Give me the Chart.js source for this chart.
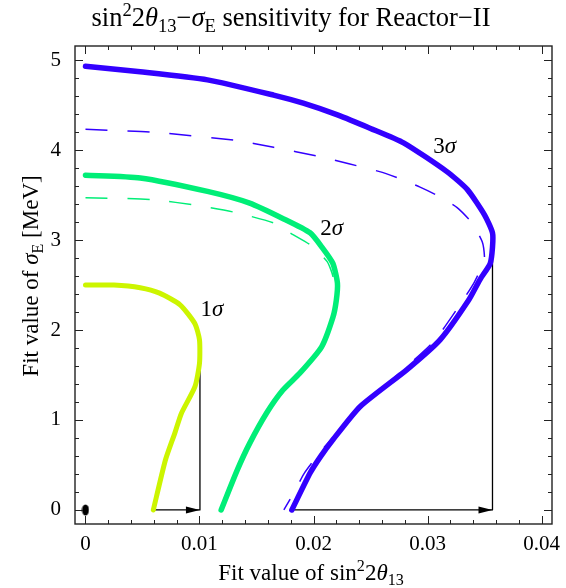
<!DOCTYPE html>
<html>
<head>
<meta charset="utf-8">
<script src="https://cdn.jsdelivr.net/npm/chart.js@4.4.0/dist/chart.umd.min.js"></script>
<style>
  body { margin: 0; background: #fff; }
  #wrap { width: 566px; height: 588px; }
</style>
</head>
<body>
<div id="wrap"><canvas id="chart"></canvas></div>
<script>
// axis ticks
const xTicks = [0, 0.01, 0.02, 0.03, 0.04];
const xTickLabels = ['0', '0.01', '0.02', '0.03', '0.04'];
const yTicks = [0, 1, 2, 3, 4, 5];
const yTickLabels = ['0', '1', '2', '3', '4', '5'];

// contours: [sin^2 2theta13, sigma_E (MeV)]
const sigma1 = [[0, 2.5], [0.0025, 2.5], [0.0048, 2.47], [0.0065, 2.41], [0.0083, 2.28], [0.0096, 2.07],
  [0.0100, 1.89], [0.0100, 1.63], [0.0096, 1.37], [0.0084, 1.07], [0.00785, 0.86], [0.0070, 0.55], [0.00595, 0]];
const sigma2 = [[0, 3.72], [0.0048, 3.69], [0.0107, 3.54], [0.0144, 3.41], [0.0173, 3.24], [0.0197, 3.08],
  [0.0208, 2.91], [0.0217, 2.74], [0.0221, 2.52], [0.0220, 2.33], [0.0217, 2.14], [0.0207, 1.81], [0.0188, 1.52],
  [0.0173, 1.33], [0.0159, 1.08], [0.0144, 0.74], [0.0133, 0.44], [0.0119, 0]];
const sigma3 = [[0, 4.93], [0.0048, 4.87], [0.0107, 4.78], [0.0165, 4.61], [0.0191, 4.52], [0.0221, 4.39],
  [0.0250, 4.24], [0.0279, 4.08], [0.0317, 3.76], [0.0335, 3.56], [0.0350, 3.28], [0.0357, 3.08], [0.0357, 2.92],
  [0.0355, 2.74], [0.0346, 2.56], [0.0336, 2.33], [0.0311, 1.89], [0.0282, 1.56], [0.0241, 1.15], [0.0217, 0.78],
  [0.0206, 0.59], [0.0197, 0.41], [0.0181, 0]];
const sigma2Dashed = [[0, 3.47], [0.0058, 3.45], [0.0100, 3.38], [0.0130, 3.31], [0.0165, 3.19], [0.0182, 3.06],
  [0.0199, 2.93], [0.0212, 2.76], [0.0217, 2.6], [0.0218, 2.4]];
const sigma3Dashed = [[0, 4.23], [0.0057, 4.20], [0.0130, 4.11], [0.0165, 4.03], [0.0204, 3.93], [0.0258, 3.76],
  [0.0276, 3.68], [0.0293, 3.59], [0.0311, 3.48], [0.0326, 3.36], [0.0339, 3.19], [0.0348, 2.98], [0.0350, 2.81],
  [0.0349, 2.74], [0.0341, 2.53], [0.0330, 2.31], [0.0306, 1.88], [0.0277, 1.54], [0.0245, 1.18], [0.0226, 0.92],
  [0.0209, 0.69], [0.0192, 0.41], [0.0184, 0.22], [0.0174, 0]];

// arrows from the contour foot to the largest sin^2 2theta13
const arrow1 = [[0.00595, 0], [0.01004, 0], [0.01004, 1.89]];
const arrow3 = [[0.0181, 0], [0.0357, 0], [0.0357, 3.09]];
const bestFit = [[0, 0]];

// contour labels
const labelText = ['1', '2', '3'];
const labelX = [0.0111, 0.0216, 0.0315];
const labelY = [2.24, 3.15, 4.06];

const FONT = "'Liberation Serif', 'Times New Roman', serif";
const toPts = arr => arr.map(p => ({ x: p[0], y: p[1] }));

// black ellipse for the best fit point
const dotImg = document.createElement('canvas');
dotImg.width = 8; dotImg.height = 12;
const dc = dotImg.getContext('2d');
dc.fillStyle = '#000';
dc.beginPath();
dc.ellipse(4, 6, 3.5, 5.5, 0, 0, Math.PI * 2);
dc.fill();

function lineSet(data, color, width, dash, order, tension) {
  return {
    data: toPts(data),
    showLine: true,
    borderColor: color,
    borderWidth: width,
    borderDash: dash || [],
    borderCapStyle: dash ? 'butt' : 'round',
    borderJoinStyle: 'round',
    pointRadius: 0,
    tension: tension === undefined ? 0.2 : tension,
    order: order
  };
}

// rich text helpers (super/subscripts, italic greek)
function partFont(p, size) {
  const s = (p[1] === 'sup' || p[1] === 'sub') ? size * 0.7 : size;
  return (p[1] === 'it' ? 'italic ' : '') + s + 'px ' + FONT;
}
function richWidth(ctx, parts, size) {
  let w = 0;
  parts.forEach(p => { ctx.font = partFont(p, size); w += ctx.measureText(p[0]).width; });
  return w;
}
function richText(ctx, parts, x, y, size, align) {
  let cx = align === 'center' ? x - richWidth(ctx, parts, size) / 2 : x;
  ctx.textBaseline = 'alphabetic';
  ctx.textAlign = 'left';
  parts.forEach(p => {
    ctx.font = partFont(p, size);
    let dy = 0;
    if (p[1] === 'sup') dy = -size * 0.38;
    if (p[1] === 'sub') dy = size * 0.22;
    ctx.fillText(p[0], cx, y + dy);
    cx += ctx.measureText(p[0]).width;
  });
}

const framePlugin = {
  id: 'frame',
  afterDatasetsDraw(chart) {
    const ctx = chart.ctx;
    const xs = chart.scales.x, ys = chart.scales.y;
    // arrow heads
    ctx.save();
    ctx.fillStyle = '#000';
    [arrow1, arrow3].forEach(a => {
      const tx = xs.getPixelForValue(a[1][0]), ty = ys.getPixelForValue(a[1][1]);
      ctx.beginPath();
      ctx.moveTo(tx, ty);
      ctx.lineTo(tx - 14, ty - 3.5);
      ctx.lineTo(tx - 14, ty + 3.5);
      ctx.closePath();
      ctx.fill();
    });
    // contour labels
    labelText.forEach((t, i) => {
      richText(ctx, [[t], ['σ', 'it']], xs.getPixelForValue(labelX[i]), ys.getPixelForValue(labelY[i]) + 8, 23, 'center');
    });
    ctx.restore();
  },
  afterDraw(chart) {
    const ctx = chart.ctx;
    const a = chart.chartArea;
    const xs = chart.scales.x, ys = chart.scales.y;
    ctx.save();
    ctx.strokeStyle = '#222';
    ctx.lineWidth = 1;
    // inside ticks on all four sides
    const tick = (len, px, vertical) => {
      ctx.beginPath();
      if (vertical) {
        ctx.moveTo(px, a.bottom); ctx.lineTo(px, a.bottom - len);
        ctx.moveTo(px, a.top); ctx.lineTo(px, a.top + len);
      } else {
        ctx.moveTo(a.left, px); ctx.lineTo(a.left + len, px);
        ctx.moveTo(a.right, px); ctx.lineTo(a.right - len, px);
      }
      ctx.stroke();
    };
    for (let i = -1; i <= 20; i++) {
      const px = Math.round(xs.getPixelForValue(i * 0.002)) + 0.5;
      if (px < a.left || px > a.right) continue;
      tick(i % 5 === 0 ? 8 : 4, px, true);
    }
    for (let i = -1; i <= 26; i++) {
      const py = Math.round(ys.getPixelForValue(i * 0.2)) + 0.5;
      if (py < a.top || py > a.bottom) continue;
      tick(i % 5 === 0 ? 8 : 4, py, false);
    }
    ctx.lineWidth = 1.4;
    ctx.strokeRect(a.left, a.top, a.right - a.left, a.bottom - a.top);

    // titles
    ctx.fillStyle = '#000';
    richText(ctx, [['sin'], ['2', 'sup'], ['2'], ['θ', 'it'], ['13', 'sub'], ['−'], ['σ', 'it'], ['E', 'sub'],
      [' sensitivity for Reactor−II']], 291, 26, 26.5, 'center');
    richText(ctx, [['Fit value of sin'], ['2', 'sup'], ['2'], ['θ', 'it'], ['13', 'sub']], 311, 580, 23, 'center');
    ctx.translate(38, 276);
    ctx.rotate(-Math.PI / 2);
    richText(ctx, [['Fit value of '], ['σ', 'it'], ['E', 'sub'], [' [MeV]']], 0, 0, 23, 'center');
    ctx.restore();
  }
};

new Chart(document.getElementById('chart'), {
  type: 'scatter',
  data: {
    datasets: [
      lineSet(sigma3Dashed, '#3300ff', 1.5, [22, 20], 3),
      lineSet(sigma2Dashed, '#00ee77', 1.5, [22, 20], 3),
      lineSet(arrow1, '#000', 1.3, null, 2, 0),
      lineSet(arrow3, '#000', 1.3, null, 2, 0),
      lineSet(sigma1, '#ccf500', 5, null, 1),
      lineSet(sigma2, '#00ee77', 5.5, null, 1),
      lineSet(sigma3, '#3300ff', 5.5, null, 1),
      { data: toPts(bestFit), pointStyle: dotImg, pointRadius: 5, order: 0 }
    ]
  },
  options: {
    responsive: true,
    maintainAspectRatio: false,
    animation: false,
    layout: { padding: { top: 46, right: 14, left: 0, bottom: 0 } },
    plugins: { legend: { display: false }, tooltip: { enabled: false } },
    scales: {
      x: {
        type: 'linear',
        min: -0.00092,
        max: 0.04092,
        grid: { display: false },
        border: { display: false },
        afterBuildTicks: s => { s.ticks = xTicks.map(v => ({ value: v })); },
        afterFit: s => { s.height = 64; },
        ticks: {
          autoSkip: false, maxRotation: 0, padding: 0, color: '#000',
          font: { family: FONT, size: 21 },
          callback: (v, i) => xTickLabels[i]
        }
      },
      y: {
        type: 'linear',
        min: -0.156,
        max: 5.156,
        grid: { display: false },
        border: { display: false },
        afterBuildTicks: s => { s.ticks = yTicks.map(v => ({ value: v })); },
        afterFit: s => { s.width = 75; },
        ticks: {
          autoSkip: false, padding: 6, color: '#000',
          font: { family: FONT, size: 21 },
          callback: (v, i) => yTickLabels[i]
        }
      }
    }
  },
  plugins: [framePlugin]
});
</script>
</body>
</html>
